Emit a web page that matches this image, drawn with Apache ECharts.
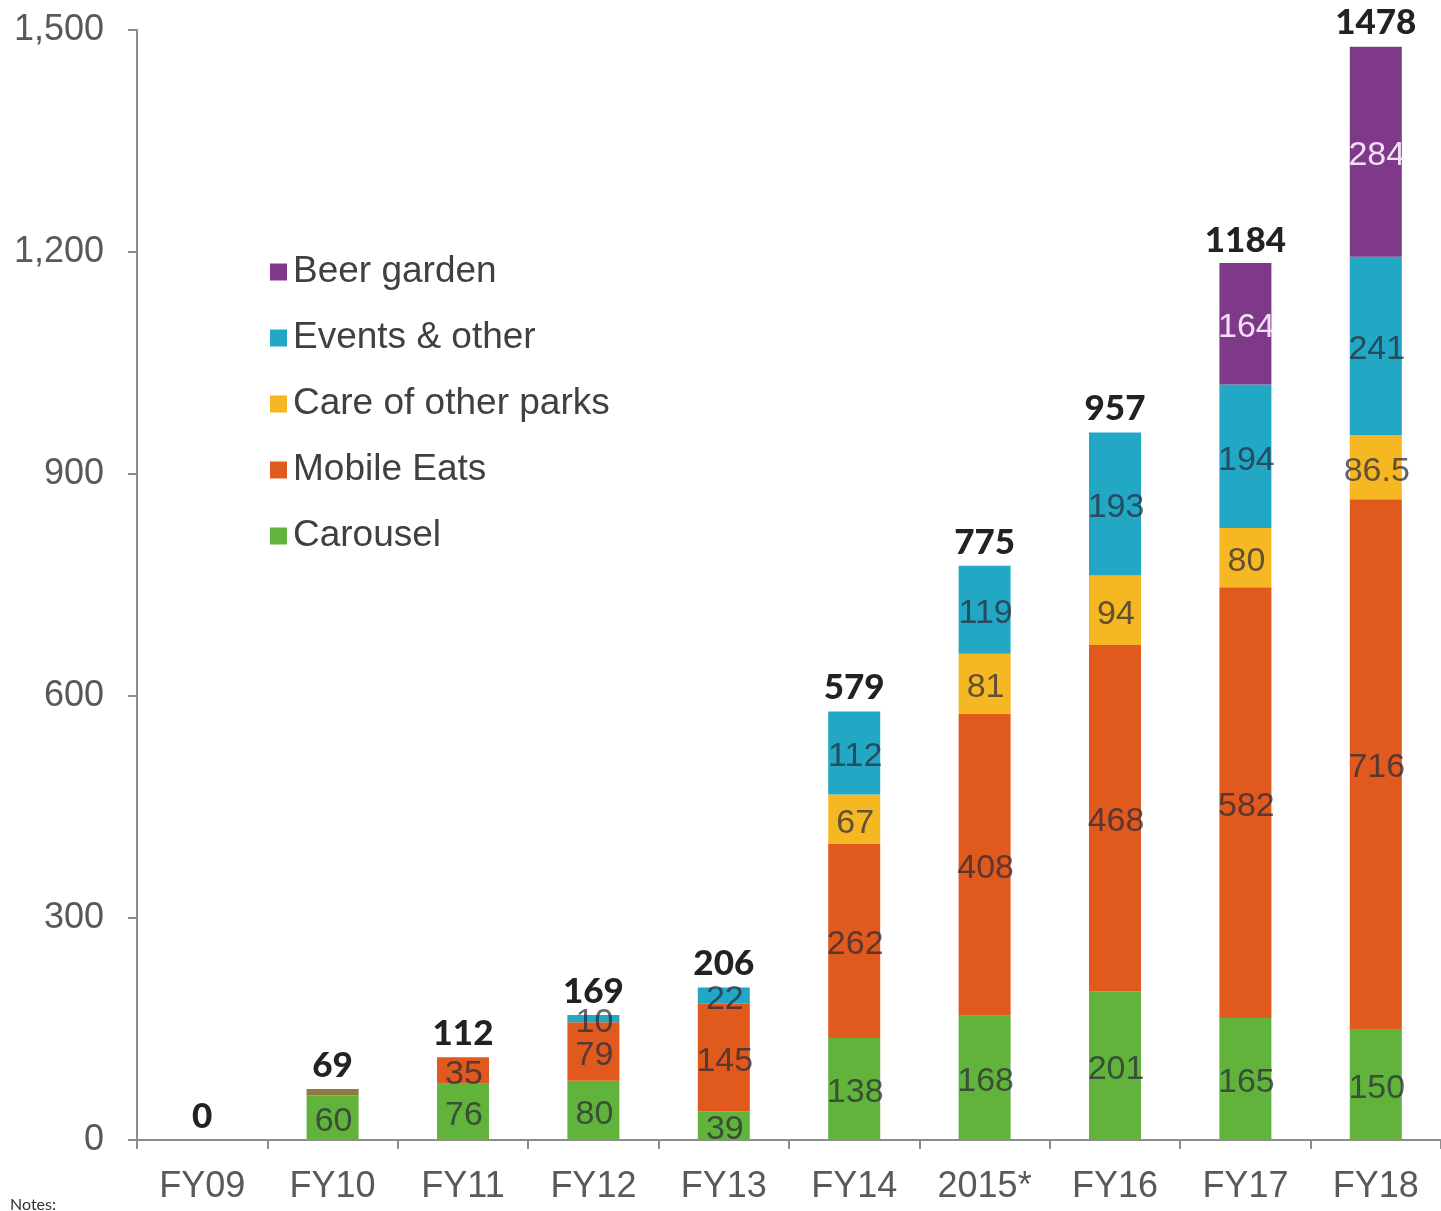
<!DOCTYPE html>
<html>
<head>
<meta charset="utf-8">
<script src="https://cdn.jsdelivr.net/npm/echarts@6/dist/echarts.min.js"></script>
<style>
html,body{margin:0;padding:0;background:#fff;}
#chart{width:1441px;height:1211px;}
#notes{position:absolute;left:10px;top:1194px;font-family:Lato,"Open Sans",sans-serif;font-size:16px;color:#333;}
</style>
</head>
<body>
<div id="chart"></div>
<div id="notes">Notes:</div>
<script>
const categories = ['FY09','FY10','FY11','FY12','FY13','FY14','2015*','FY16','FY17','FY18'];
const carousel   = [0, 60, 76, 80, 39, 138, 168, 201, 165, 150];
const mobileEats = [0, 9, 35, 79, 145, 262, 408, 468, 582, 716];
const careParks  = [0, 0, 0, 0, 0, 67, 81, 94, 80, 86.5];
const events     = [0, 0, 1, 10, 22, 112, 119, 193, 194, 241];
const beerGarden = [0, 0, 0, 0, 0, 0, 0, 0, 164, 284];
const totals     = [0, 69, 112, 169, 206, 579, 775, 957, 1184, 1478];
const yTicks     = [0, 300, 600, 900, 1200, 1500];

const chart = echarts.init(document.getElementById('chart'));
const labelDark = {
  show: true, position: 'inside', offset: [1, 4],
  fontFamily: '"Liberation Sans", Arial, sans-serif', fontSize: 34,
  color: 'rgba(40,40,55,0.72)',
  formatter: p => (p.value >= 10 ? String(p.value) : '')
};
function mk(name, data, color, extra) {
  return Object.assign({
    name, type: 'bar', stack: 'total', barWidth: 52,
    data: data.map(v => v === 0 ? null : v),
    itemStyle: { color },
    label: labelDark
  }, extra || {});
}
const mobileData = mobileEats.map((v, i) => {
  if (v === 0) return null;
  if (i === 1) return { value: v, itemStyle: { color: '#8e7b3f' } };
  return v;
});
const series = [
  mk('Carousel', carousel, '#62b33b'),
  Object.assign(mk('Mobile Eats', mobileEats, '#e05a1e'), { data: mobileData }),
  mk('Care of other parks', careParks, '#f5b823'),
  mk('Events & other', events, '#22a8c4'),
  mk('Beer garden', beerGarden, '#7e3a88', {
    label: Object.assign({}, labelDark, { color: 'rgba(255,238,255,0.92)' })
  }),
  {
    name: 'Total', type: 'bar', barWidth: 52, barGap: '-100%', z: 1,
    data: totals,
    itemStyle: { color: 'transparent' },
    label: {
      show: true, position: 'top', distance: 6,
      fontFamily: 'Lato, sans-serif', fontWeight: 900, fontSize: 35, color: '#222'
    },
    silent: true
  }
];

chart.setOption({
  animation: false,
  grid: { left: 137, right: 0, top: 30, bottom: 71, containLabel: false },
  legend: {
    data: ['Beer garden', 'Events & other', 'Care of other parks', 'Mobile Eats', 'Carousel'],
    orient: 'vertical', left: 265, top: 247,
    itemWidth: 17, itemHeight: 17, itemGap: 26, icon: 'rect',
    textStyle: { fontFamily: '"Liberation Sans", Arial, sans-serif', fontSize: 37, color: '#404040', lineHeight: 40, padding: [0, 0, 0, 1] }
  },
  xAxis: {
    type: 'category', data: categories,
    axisLine: { lineStyle: { color: '#8c8c8c', width: 2 } },
    axisTick: { show: true, length: 9, lineStyle: { color: '#8c8c8c', width: 2 } },
    axisLabel: { fontFamily: '"Liberation Sans", Arial, sans-serif', fontSize: 36, color: '#595959', margin: 29 }
  },
  yAxis: {
    type: 'value', min: 0, max: 1500, interval: 300,
    splitLine: { show: false },
    axisLine: { show: true, lineStyle: { color: '#8c8c8c', width: 2 } },
    axisTick: { show: true, length: 9, lineStyle: { color: '#8c8c8c', width: 2 } },
    axisLabel: {
      fontFamily: '"Liberation Sans", Arial, sans-serif', fontSize: 36, color: '#595959', margin: 33,
      formatter: v => yTicks.includes(v) ? v.toLocaleString('en-US') : ''
    }
  },
  series
});
</script>
</body>
</html>
